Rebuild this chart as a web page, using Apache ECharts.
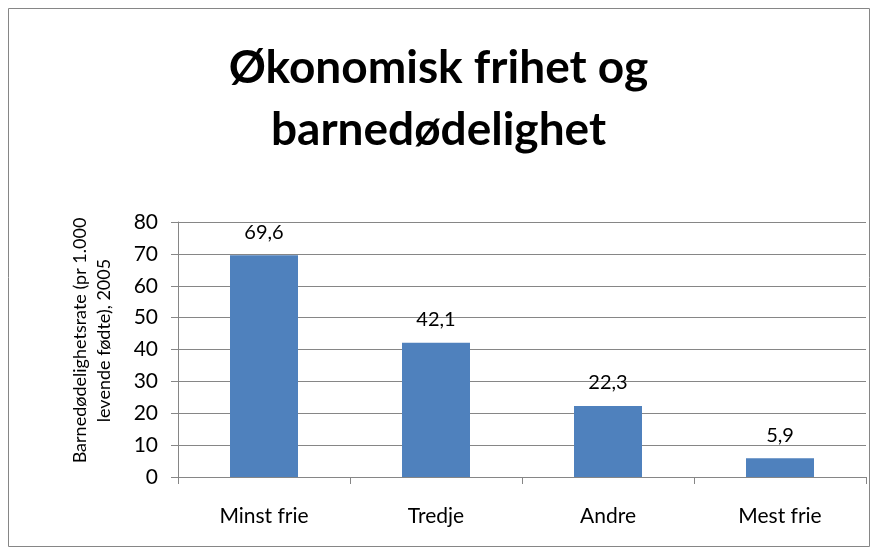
<!DOCTYPE html>
<html>
<head>
<meta charset="utf-8">
<script src="https://cdn.jsdelivr.net/npm/echarts@6/dist/echarts.min.js"></script>
<style>
  html, body { margin: 0; padding: 0; background: #fff; }
  #chart { width: 877px; height: 554px; }
</style>
</head>
<body>
<div id="chart"></div>
<script>
// data
const categories = ["Minst frie", "Tredje", "Andre", "Mest frie"];
const values = [69.6, 42.1, 22.3, 5.9];
const yTicks = { min: 0, max: 80, interval: 10 };

const chart = echarts.init(document.getElementById("chart"));
const font = "Lato, 'Open Sans', sans-serif";

chart.setOption({
  animation: false,
  textStyle: { fontFamily: font },
  graphic: [
    {
      type: "rect",
      shape: { x: 8.5, y: 8.5, width: 861, height: 538 },
      style: { fill: "none", stroke: "#868686", lineWidth: 1 },
      silent: true
    }
  ],
  title: {
    text: "Økonomisk frihet og\nbarnedødelighet",
    left: "center",
    top: 32,
    textStyle: {
      fontFamily: font,
      fontSize: 46,
      fontWeight: "bold",
      color: "#000",
      lineHeight: 62
    }
  },
  grid: { left: 178, right: 11, top: 222, bottom: 77 },
  xAxis: {
    type: "category",
    data: categories,
    axisLine: { lineStyle: { color: "#868686" } },
    axisTick: { show: true, length: 7, lineStyle: { color: "#868686" } },
    axisLabel: { color: "#000", fontSize: 21, margin: 29 }
  },
  yAxis: {
    type: "value",
    min: yTicks.min,
    max: yTicks.max,
    interval: yTicks.interval,
    name: "Barnedødelighetsrate (pr 1.000\nlevende fødte), 2005",
    nameLocation: "middle",
    nameGap: 62,
    nameTextStyle: { color: "#000", fontSize: 18, lineHeight: 24, padding: [0, 0, 0, 18] },
    axisLine: { show: true, lineStyle: { color: "#868686" } },
    axisTick: { show: true, length: 7, lineStyle: { color: "#868686" } },
    splitLine: { lineStyle: { color: "#868686" } },
    axisLabel: { color: "#000", fontSize: 21, margin: 20 }
  },
  series: [
    {
      type: "bar",
      data: values,
      barWidth: 68,
      itemStyle: { color: "#4F81BD" },
      label: {
        show: true,
        position: "top",
        distance: 13,
        color: "#000",
        fontSize: 20,
        formatter: p => String(p.value).replace(".", ",")
      }
    }
  ]
});
</script>
</body>
</html>
